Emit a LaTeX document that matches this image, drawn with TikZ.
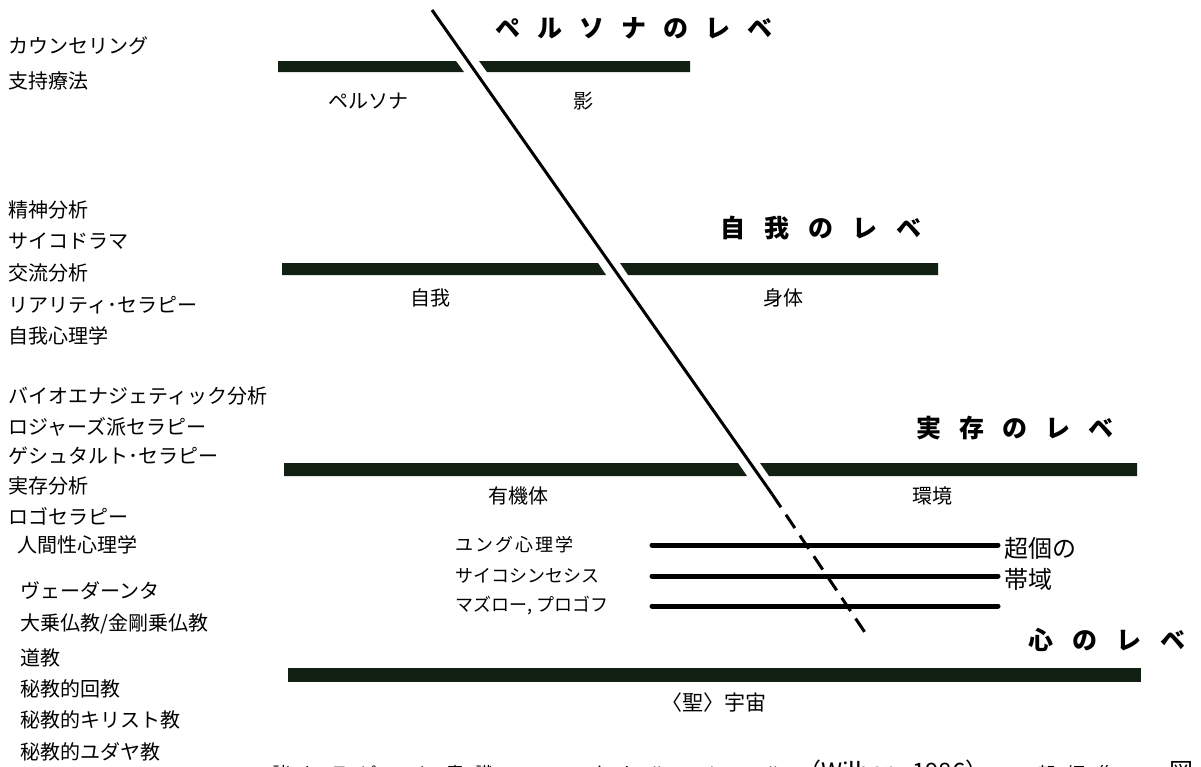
\documentclass[tikz,border=0pt]{standalone}
\usepackage{fontspec}
\newfontfamily\jp{Noto Sans CJK JP}
\definecolor{bardark}{RGB}{18,32,20}
\begin{document}
\begin{tikzpicture}[x=1pt,y=-1pt,
  lst/.style={font=\jp\fontsize{20}{20}\selectfont, anchor=west, inner sep=0pt},
  lbl/.style={font=\jp\fontsize{20}{20}\selectfont, inner sep=0pt},
  ttl/.style={font=\jp\bfseries\fontsize{25}{25}\selectfont, anchor=west, inner sep=0pt},
  tp/.style={font=\jp\fontsize{18}{18}\selectfont, anchor=west, inner sep=0pt},
  band/.style={line width=5pt, line cap=round},
  barfill/.style={fill=bardark},
  diag/.style={line width=3pt}]
\clip (0,0) rectangle (1201,766);
\fill[white] (0,0) rectangle (1201,766);

% left list
\node[lst] (l1) at (8,46) {カウンセリング};
\node[lst] (l2) at (8,81) {支持療法};
\node[lst] (l3) at (8,210) {精神分析};
\node[lst] (l4) at (8,241) {サイコドラマ};
\node[lst] (l5) at (8,273) {交流分析};
\node[lst] (l6) at (8,305) {リアリティ･セラピー};
\node[lst] (l7) at (8,336) {自我心理学};
\node[lst] (l8) at (8,396) {バイオエナジェティック分析};
\node[lst] (l9) at (8,427) {ロジャーズ派セラピー};
\node[lst] (l10) at (8,456) {ゲシュタルト･セラピー};
\node[lst] (l11) at (8,486) {実存分析};
\node[lst] (l12) at (8,516) {ロゴセラピー};
\node[lst] (l13) at (17,545) {人間性心理学};
\node[lst] (l14) at (20,591) {ヴェーダーンタ};
\node[lst] (l15) at (20,624) {大乗仏教/金剛乗仏教};
\node[lst] (l16) at (20,658) {道教};
\node[lst] (l17) at (20,689) {秘教的回教};
\node[lst] (l18) at (20,720) {秘教的キリスト教};
\node[lst] (l19) at (20,752) {秘教的ユダヤ教};

% level titles
\node[ttl] (t1) at (495,28) {ペ\kern17pt ル\kern17pt ソ\kern17pt ナ\kern17pt の\kern17pt レ\kern17pt ベ};
\node[ttl] (t2) at (720,228) {自\kern19pt 我\kern19pt の\kern19pt レ\kern19pt ベ};
\node[ttl] (t3) at (916,428) {実\kern18pt 存\kern18pt の\kern18pt レ\kern18pt ベ};
\node[ttl] (t4) at (1028,640) {心\kern19pt の\kern19pt レ\kern19pt ベ};

% bars
\fill[barfill] (278,61) -- (456,61) -- (464,72) -- (278,72) -- cycle;
\fill[barfill] (479,61) -- (690,61) -- (690,72) -- (487,72) -- cycle;
\fill[barfill] (282,263) -- (598,263) -- (606,275) -- (282,275) -- cycle;
\fill[barfill] (620,263) -- (938,263) -- (938,275) -- (628,275) -- cycle;
\fill[barfill] (284,463) -- (738,463) -- (747,476) -- (284,476) -- cycle;
\fill[barfill] (760,463) -- (1137,463) -- (1137,476) -- (769,476) -- cycle;
\fill[barfill] (288,668) rectangle (1141,682);

% bar labels
\node[lbl] (b1) at (368,101) {ペルソナ};
\node[lbl] (b2) at (583,101) {影};
\node[lbl] (b3) at (430,298) {自我};
\node[lbl] (b4) at (783,298) {身体};
\node[lbl] (b5) at (518,496) {有機体};
\node[lbl] (b6) at (932,496) {環境};
\node[lbl, font=\jp\fontsize{21}{21}\selectfont] (b7) at (714,703) {〈聖〉宇宙};

% transpersonal bands
\coordinate (j1) at (652,545); \coordinate (j2) at (998,545);
\coordinate (p1) at (652,576); \coordinate (p2) at (998,576);
\coordinate (m1) at (652,606); \coordinate (m2) at (998,606);
\draw[band] (j1) -- (j2);
\draw[band] (p1) -- (p2);
\draw[band] (m1) -- (m2);
\node[tp] (u1) at (455,545) {ユ\kern2pt ン\kern2pt グ\kern2pt 心\kern2pt 理\kern2pt 学};
\node[tp] (u2) at (455,576) {サイコシンセシス};
\node[tp] (u3) at (455,606) {マズロー, プロゴフ};
\node[font=\jp\fontsize{24}{24}\selectfont, anchor=west, inner sep=0pt] (z1) at (1004,548) {超個の};
\node[font=\jp\fontsize{24}{24}\selectfont, anchor=west, inner sep=0pt] (z2) at (1004,579) {帯域};

% diagonal
\coordinate (dtop) at (432,10);
\coordinate (dmid) at (772,494);
\coordinate (dend) at (866,634);
\draw[diag] (dtop) -- (dmid);
\draw[diag, dash pattern=on 16pt off 9pt] (dmid) -- (dend);

% caption (cut off at the bottom edge, as in the reference)
\node[font=\jp\fontsize{18}{18}\selectfont, anchor=west, inner sep=0pt] (cap) at (272,772)
  {諸\kern11pt セ\kern11pt ラ\kern11pt ピ\kern11pt ー\kern11pt と\kern11pt 意\kern11pt 識\kern11pt の\kern11pt ス\kern11pt ペ\kern11pt ク\kern11pt ト\kern11pt ル\kern11pt の\kern11pt レ\kern11pt ベ\kern11pt ル\kern14pt {\fontsize{24}{24}\selectfont（Wilber,\kern14pt 1986）}\kern18pt 一\kern12pt 部\kern12pt 編\kern12pt 集\kern54pt {\fontsize{24}{24}\selectfont 図}};
\end{tikzpicture}
\end{document}
